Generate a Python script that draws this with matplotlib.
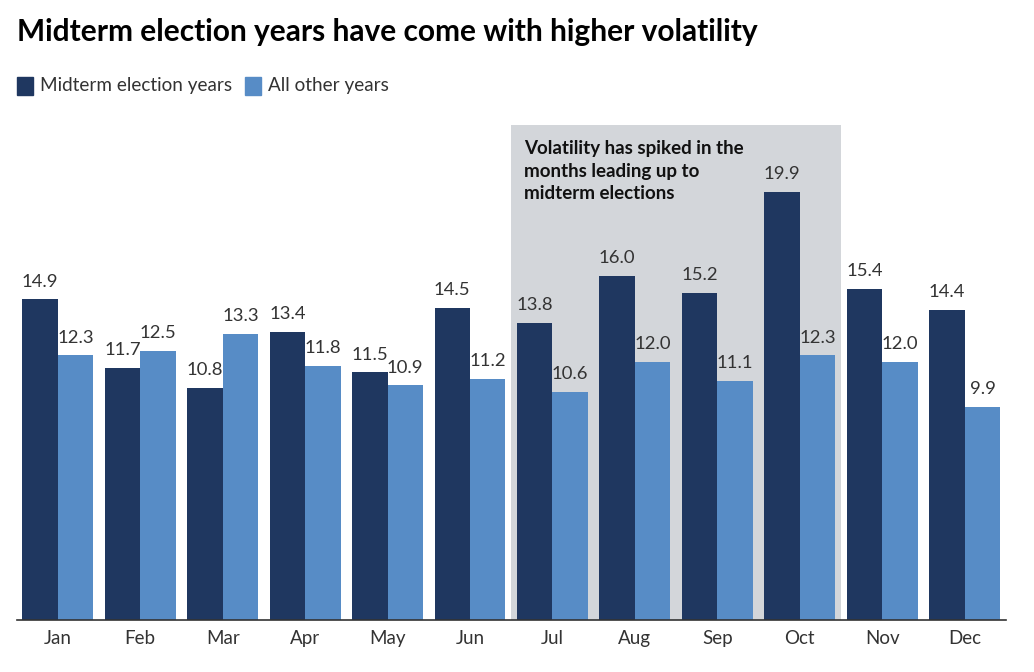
import matplotlib
matplotlib.use("Agg")
import matplotlib.pyplot as plt
import numpy as np
from matplotlib.patches import Rectangle

# data
months = ["Jan", "Feb", "Mar", "Apr", "May", "Jun",
          "Jul", "Aug", "Sep", "Oct", "Nov", "Dec"]
midterm = [14.9, 11.7, 10.8, 13.4, 11.5, 14.5, 13.8, 16.0, 15.2, 19.9, 15.4, 14.4]
other = [12.3, 12.5, 13.3, 11.8, 10.9, 11.2, 10.6, 12.0, 11.1, 12.3, 12.0, 9.9]
series_names = ["Midterm election years", "All other years"]
shade_months = ("Jul", "Oct")
note = "Volatility has spiked in the\nmonths leading up to\nmidterm elections"

dark = "#1f3760"
light = "#578cc6"
shade = "#d3d6da"
txt = "#333333"

plt.rcParams["font.family"] = ["Lato", "DejaVu Sans"]

fig = plt.figure(figsize=(10.34, 6.72), dpi=100)
ax = fig.add_axes([16.5 / 1034, 52 / 672, (1006 - 16.5) / 1034, (620 - 125) / 672])

x = np.arange(len(months))
w = 0.43
b1 = ax.bar(x - w / 2, midterm, w, color=dark, zorder=2)
b2 = ax.bar(x + w / 2, other, w, color=light, zorder=2)

# shaded highlight window
i0, i1 = months.index(shade_months[0]), months.index(shade_months[1])
ax.add_patch(Rectangle((i0 - 0.5, 0), i1 - i0 + 1, 23, color=shade, zorder=1, lw=0))

for bars in (b1, b2):
    for r in bars:
        ax.annotate(f"{r.get_height():.1f}", (r.get_x() + r.get_width() / 2, r.get_height()),
                    xytext=(0, 7), textcoords="offset points", ha="center", va="bottom",
                    fontsize=13.3, color=txt)

ax.text(i0 - 0.5 + 0.15, 22.3, note, ha="left", va="top", fontsize=13.5,
        fontweight="bold", color="#111111", linespacing=1.4)

ax.set_xlim(-0.5, len(months) - 0.5)
ax.set_ylim(0, 23)
ax.set_xticks(x)
ax.set_xticklabels(months, fontsize=13.5, color=txt)
ax.tick_params(axis="x", length=0, pad=7)
ax.set_yticks([])
for s in ("top", "right", "left"):
    ax.spines[s].set_visible(False)
ax.spines["bottom"].set_color("#333333")
ax.spines["bottom"].set_linewidth(1.2)
ax.spines["bottom"].set_zorder(3)

fig.text(17 / 1034, 1 - 32 / 672, "Midterm election years have come with higher volatility",
         fontsize=21.5, fontweight="bold", color="black", va="center", ha="left")

# legend
lx = 17 / 1034
ly = 1 - 86 / 672
sq_w, sq_h = 16 / 1034, 18 / 672
fig.patches.append(Rectangle((lx, ly - sq_h / 2), sq_w, sq_h, color=dark, transform=fig.transFigure))
fig.text(40 / 1034, ly, series_names[0], fontsize=13.6, color=txt, va="center", ha="left")
fig.patches.append(Rectangle((245 / 1034, ly - sq_h / 2), sq_w, sq_h, color=light, transform=fig.transFigure))
fig.text(268 / 1034, ly, series_names[1], fontsize=13.6, color=txt, va="center", ha="left")

fig.savefig("out.png", dpi=100)
